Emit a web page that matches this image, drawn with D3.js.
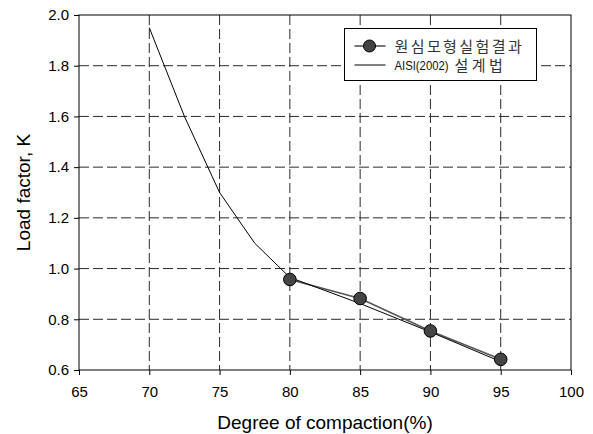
<!DOCTYPE html>
<html>
<head>
<meta charset="utf-8">
<script src="https://cdn.jsdelivr.net/npm/d3@7"></script>
<style>
  body { margin: 0; background: #fff; }
</style>
</head>
<body>
<div id="chart"></div>
<script>
// Data
const testX = [80, 85, 90, 95];
const testK = [0.957, 0.882, 0.754, 0.642];
const aisiX = [70, 72.5, 75, 77.5, 80, 85, 90, 95];
const aisiK = [1.95, 1.6, 1.3, 1.1, 0.965, 0.862, 0.75, 0.633];
const xTicks = [65, 70, 75, 80, 85, 90, 95, 100];
const yTicks = [0.6, 0.8, 1.0, 1.2, 1.4, 1.6, 1.8, 2.0];
const legendNames = ["원심모형실험결과", "AISI(2002) 설계법"];

const outerWidth = 593, outerHeight = 434;
const margin = { top: 15, right: 22, bottom: 64, left: 79 };
const width = outerWidth - margin.left - margin.right;
const height = outerHeight - margin.top - margin.bottom;

const svg = d3.select("#chart")
  .append("svg")
  .attr("width", outerWidth)
  .attr("height", outerHeight)
  .style("font-family", "'Liberation Sans', Arial, sans-serif");

const g = svg.append("g")
  .attr("transform", `translate(${margin.left}, ${margin.top})`);

const xScale = d3.scaleLinear().domain([65, 100]).range([0, width]);
const yScale = d3.scaleLinear().domain([0.6, 2.0]).range([height, 0]);

// Grid lines
g.append("g")
  .selectAll("line")
  .data(xTicks.slice(1, -1))
  .enter()
  .append("line")
  .attr("x1", d => xScale(d))
  .attr("x2", d => xScale(d))
  .attr("y1", 0)
  .attr("y2", height)
  .style("stroke", "#2a2a2a")
  .style("stroke-dasharray", "10,4");

g.append("g")
  .selectAll("line")
  .data(yTicks.slice(1, -1))
  .enter()
  .append("line")
  .attr("x1", 0)
  .attr("x2", width)
  .attr("y1", d => yScale(d))
  .attr("y2", d => yScale(d))
  .style("stroke", "#2a2a2a")
  .style("stroke-dasharray", "10,4");

// Axes
const xAxis = d3.axisBottom(xScale).tickValues(xTicks).tickSize(5).tickSizeOuter(0).tickFormat(d3.format("d"));
const yAxis = d3.axisLeft(yScale).tickValues(yTicks).tickSize(5).tickSizeOuter(0).tickFormat(d3.format(".1f"));

const xg = g.append("g").attr("transform", `translate(0, ${height})`).call(xAxis);
const yg = g.append("g").call(yAxis);

[xg, yg].forEach(a => {
  a.select(".domain").remove();
  a.selectAll(".tick line").style("stroke", "#000");
  a.selectAll("text")
    .style("font-size", "15px")
    .style("font-family", "'Liberation Sans', Arial, sans-serif")
    .attr("fill", "#000");
});
xg.selectAll("text").attr("y", 26.5).attr("dy", 0);
yg.selectAll("text").attr("x", -10);

// Frame
g.append("rect")
  .attr("x", 0)
  .attr("y", 0)
  .attr("width", width)
  .attr("height", height)
  .style("fill", "none")
  .style("stroke", "#000")
  .style("stroke-width", 1);

const aisiData = aisiX.map((x, i) => ({ x: x, k: aisiK[i] }));
const testData = testX.map((x, i) => ({ x: x, k: testK[i] }));

const line = d3.line()
  .x(d => xScale(d.x))
  .y(d => yScale(d.k));

g.append("path")
  .datum(testData)
  .attr("d", line)
  .style("fill", "none")
  .style("stroke", "#555")
  .style("stroke-width", 1.6);

g.append("path")
  .datum(aisiData)
  .attr("d", line)
  .style("fill", "none")
  .style("stroke", "#000")
  .style("stroke-width", 1);

g.selectAll(".pt")
  .data(testData)
  .enter()
  .append("circle")
  .attr("class", "pt")
  .attr("cx", d => xScale(d.x))
  .attr("cy", d => yScale(d.k))
  .attr("r", 6.3)
  .style("fill", "#444")
  .style("stroke", "#000")
  .style("stroke-width", 1);

// Axis titles
svg.append("text")
  .attr("x", margin.left + width / 2)
  .attr("y", 429)
  .attr("text-anchor", "middle")
  .style("font-size", "19px")
  .text("Degree of compaction(%)");

svg.append("text")
  .attr("transform", `translate(30, ${margin.top + height / 2}) rotate(-90)`)
  .attr("text-anchor", "middle")
  .style("font-size", "19px")
  .text("Load factor, K");

// Legend
const legend = svg.append("g").attr("transform", "translate(344.5, 28.5)");
legend.append("rect")
  .attr("width", 192)
  .attr("height", 52)
  .style("fill", "#fff")
  .style("stroke", "#000");

legendNames.forEach((name, i) => {
  const ly = 17.5 + i * 19;
  legend.append("line")
    .attr("x1", 10)
    .attr("x2", 41)
    .attr("y1", ly)
    .attr("y2", ly)
    .style("stroke", i === 0 ? "#555" : "#000")
    .style("stroke-width", i === 0 ? 1.6 : 1);
  if (i === 0) {
    legend.append("circle")
      .attr("cx", 25)
      .attr("cy", ly)
      .attr("r", 6)
      .style("fill", "#444")
      .style("stroke", "#000");
  }
  const parts = name.split(" ");
  if (parts.length > 1) {
    // Latin part is narrow in the original
    legend.append("text")
      .attr("x", 50)
      .attr("y", ly + 5)
      .attr("textLength", 54)
      .attr("lengthAdjust", "spacingAndGlyphs")
      .attr("fill", "#111")
      .style("font-size", "13.5px")
      .text(parts[0]);
    legend.append("text")
      .attr("x", 110)
      .attr("y", ly + 5.5)
      .attr("fill", "#333")
      .style("font-size", "15px")
      .style("letter-spacing", "3.5px")
      .style("font-family", "'Noto Sans CJK KR', sans-serif")
      .text(parts[1]);
  } else {
    legend.append("text")
      .attr("x", 50)
      .attr("y", ly + 5.5)
      .attr("fill", "#333")
      .style("font-size", "15px")
      .style("letter-spacing", "2.4px")
      .style("font-family", "'Noto Sans CJK KR', sans-serif")
      .text(name);
  }
});
</script>
</body>
</html>
